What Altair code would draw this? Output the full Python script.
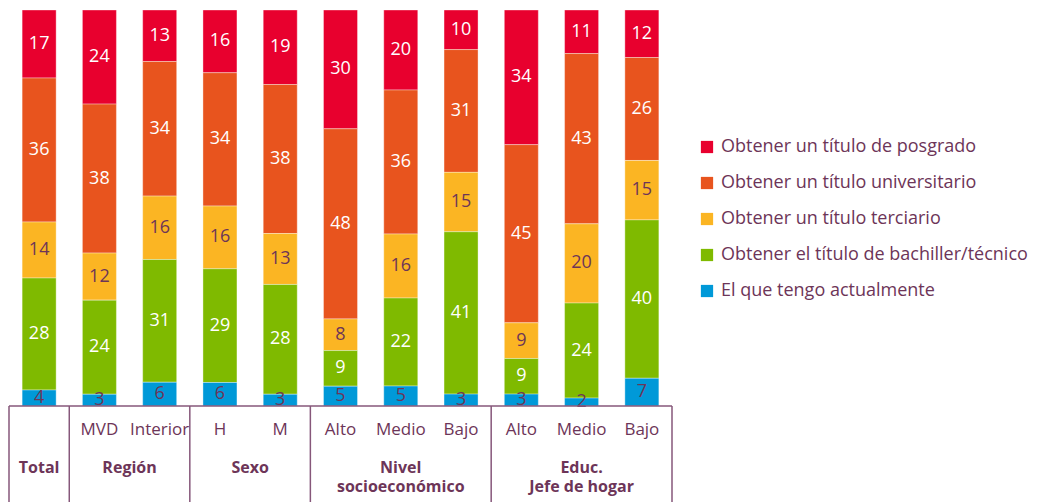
import altair as alt
import pandas as pd

# ---- data ----
positions = list(range(11))
cat_labels = ["", "MVD", "Interior", "H", "M", "Alto", "Medio", "Bajo", "Alto", "Medio", "Bajo"]

series_names = [
    "Obtener un título de posgrado",
    "Obtener un título universitario",
    "Obtener un título terciario",
    "Obtener el título de bachiller/técnico",
    "El que tengo actualmente",
]
series_colors = ["#E8002E", "#E8541E", "#FBB523", "#7FBA00", "#0099D8"]
dark_label_series = ["Obtener un título terciario", "El que tengo actualmente"]

posgrado = [17, 24, 13, 16, 19, 30, 20, 10, 34, 11, 12]
universitario = [36, 38, 34, 34, 38, 48, 36, 31, 45, 43, 26]
terciario = [14, 12, 16, 16, 13, 8, 16, 15, 9, 20, 15]
bachiller = [28, 24, 31, 29, 28, 9, 22, 41, 9, 24, 40]
actual = [4, 3, 6, 6, 3, 5, 5, 3, 3, 2, 7]

group_line1 = ["Total", "Región", "Sexo", "Nivel", "Educ."]
group_line2 = ["", "", "", "socioeconómico", "Jefe de hogar"]
group_centers = [0, 1.5, 3.5, 6, 9]
group_bounds = [-0.5, 0.5, 2.5, 4.5, 7.5, 10.5]

PURPLE = "#6D3558"
LINE = "#86577A"
FONT = "Open Sans"

# ---- tables ----
all_vals = [posgrado, universitario, terciario, bachiller, actual]
rows = []
for i, (name, vals) in enumerate(zip(series_names, all_vals)):
    order = len(series_names) - 1 - i  # bottom = "actual"
    for p, v in zip(positions, vals):
        rows.append({"pos": p, "serie": name, "value": v, "ord": order,
                     "dark": name in dark_label_series})
df = pd.DataFrame(rows)

cats = pd.DataFrame({"pos": positions, "label": cat_labels})
groups = pd.DataFrame({"c": group_centers, "l1": group_line1, "l2": group_line2})
bounds = pd.DataFrame({"b": group_bounds})
hline = pd.DataFrame({"x0": [min(group_bounds)], "x1": [max(group_bounds)]})

W, H = 663, 396
xs = alt.Scale(domain=[min(group_bounds), max(group_bounds)], nice=False, zero=False, padding=0)
ys = alt.Scale(domain=[0, 1], nice=False)

bars = alt.Chart(df).mark_bar(size=34, stroke="white", strokeWidth=0.6, strokeOpacity=0.6).encode(
    x=alt.X("pos:Q", scale=xs, axis=None),
    y=alt.Y("value:Q", stack="normalize", scale=ys, axis=None),
    color=alt.Color(
        "serie:N",
        scale=alt.Scale(domain=series_names, range=series_colors),
        legend=alt.Legend(
            title=None, orient="none", legendX=689, legendY=128,
            symbolType="square", symbolSize=150, symbolStrokeWidth=0,
            labelFontSize=18, labelColor=PURPLE, labelFont=FONT, labelLimit=0,
            rowPadding=18, labelOffset=5, padding=0,
        ),
    ),
    order=alt.Order("ord:Q"),
)

labels = alt.Chart(df).transform_stack(
    stack="value", groupby=["pos"], as_=["v0", "v1"],
    sort=[alt.SortField("ord", order="ascending")], offset="normalize",
).transform_calculate(mid="(datum.v0 + datum.v1) / 2").mark_text(
    fontSize=18, font=FONT, baseline="middle", align="center"
).encode(
    x=alt.X("pos:Q", scale=xs, axis=None),
    y=alt.Y("mid:Q", scale=ys, axis=None),
    text=alt.Text("value:Q"),
    color=alt.condition(alt.datum.dark, alt.value(PURPLE), alt.value("white")),
)

cat_text = alt.Chart(cats).mark_text(
    fontSize=17, font=FONT, color=PURPLE, baseline="middle", align="center"
).encode(x=alt.X("pos:Q", scale=xs, axis=None), y=alt.value(420), text="label:N")

grp_base = alt.Chart(groups).mark_text(
    fontSize=16, font=FONT, fontWeight="bold", color=PURPLE, baseline="alphabetic",
    align="center",
)
grp_text1 = grp_base.encode(x=alt.X("c:Q", scale=xs, axis=None), y=alt.value(463), text="l1:N")
grp_text2 = grp_base.encode(x=alt.X("c:Q", scale=xs, axis=None), y=alt.value(482), text="l2:N")

vrules = alt.Chart(bounds).mark_rule(color=LINE, strokeWidth=1.5).encode(
    x=alt.X("b:Q", scale=xs, axis=None), y=alt.value(396), y2=alt.value(492)
)
hrule = alt.Chart(hline).mark_rule(color=LINE, strokeWidth=1.5).encode(
    x=alt.X("x0:Q", scale=xs, axis=None), x2="x1:Q", y=alt.value(396)
)

chart = alt.layer(bars, labels, vrules, hrule, cat_text, grp_text1, grp_text2).properties(
    width=W, height=H, background="white",
    autosize=alt.AutoSizeParams(type="none"),
    padding={"left": 9, "top": 10, "right": 367, "bottom": 96},
).configure_view(stroke=None)

chart.save("out.html", embed_options={"renderer": "svg", "actions": False})
